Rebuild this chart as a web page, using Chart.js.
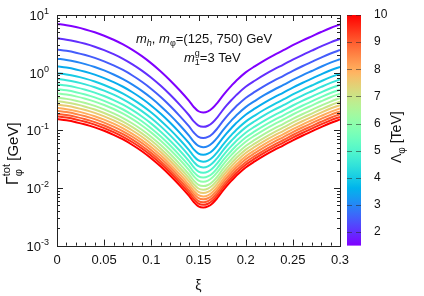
<!DOCTYPE html>
<html>
<head>
<meta charset="utf-8">
<script src="https://cdn.jsdelivr.net/npm/chart.js@4.4.1/dist/chart.umd.min.js"></script>
<style>
  html, body { margin: 0; padding: 0; background: #fff; }
  #wrap { width: 424px; height: 296px; }
</style>
</head>
<body>
<div id="wrap"><canvas id="c" width="424" height="296"></canvas></div>
<script>
// xi grid of the curves
const xi = [0, 0.01, 0.02, 0.03, 0.04, 0.05, 0.06, 0.07, 0.08, 0.09, 0.10, 0.11, 0.12, 0.13,
            0.14, 0.145, 0.15, 0.155, 0.16, 0.165, 0.17, 0.175, 0.18, 0.185, 0.19, 0.20,
            0.21, 0.22, 0.23, 0.24, 0.25, 0.26, 0.27, 0.28, 0.29, 0.30];
// width of the top curve (Lambda = 1.5 TeV), GeV
const topCurve = [7.00, 6.64, 6.17, 5.62, 5.01, 4.37, 3.72, 3.09, 2.48, 1.93, 1.45, 1.05, 0.733, 0.495,
                  0.324, 0.254, 0.214, 0.204, 0.213, 0.243, 0.299, 0.384, 0.484, 0.596, 0.724, 1.01,
                  1.30, 1.64, 2.02, 2.45, 2.99, 3.59, 4.27, 5.07, 5.96, 6.85];
// Lambda_phi of each curve (TeV) and its width at xi = 0 (GeV)
const lambdas = [1.5, 2, 2.5, 3, 3.5, 4, 4.5, 5, 5.5, 6, 6.5, 7, 7.5, 8, 8.5, 9, 9.5, 10];
const gammaAtZero = [7.0, 3.94, 2.52, 1.75, 1.29, 0.98, 0.78, 0.63, 0.52, 0.44, 0.37, 0.32,
                     0.28, 0.245, 0.218, 0.194, 0.175, 0.157];
const xTicks = [0, 0.05, 0.1, 0.15, 0.2, 0.25, 0.3];
const yDecades = [-3, -2, -1, 0, 1];
const cbTicks = [2, 3, 4, 5, 6, 7, 8, 9, 10];
const cbMin = 1.5, cbMax = 10;

function rainbow(t) {
  const r = Math.min(1, Math.abs(2 * t - 0.5));
  const g = Math.sin(Math.PI * t);
  const b = Math.cos(Math.PI * t / 2);
  return "rgb(" + Math.round(r * 255) + "," + Math.round(g * 255) + "," + Math.round(b * 255) + ")";
}

const datasets = lambdas.map(function(L, k) {
  return {
    label: "Lambda = " + L,
    data: xi.map(function(x, i) { return { x: x, y: topCurve[i] * gammaAtZero[k] / topCurve[0] }; }),
    borderColor: rainbow((L - cbMin) / (cbMax - cbMin)),
    borderWidth: 2,
    pointRadius: 0,
    tension: 0.35,
    fill: false
  };
});

const FONT = "'Liberation Sans', Arial, sans-serif";

// draws runs of [text, size, shift, italic, noAdvance] one after another
function drawRuns(ctx, runs, x, y) {
  let cx = x;
  runs.forEach(function(r) {
    ctx.font = (r[3] ? "italic " : "") + r[1] + "px " + FONT;
    ctx.fillText(r[0], cx, y + r[2]);
    if (!r[4]) cx += ctx.measureText(r[0]).width;
  });
  return cx;
}

const decor = {
  id: "decor",
  afterDatasetsDraw(chart) {
    const ctx = chart.ctx;
    const a = chart.chartArea;
    const xs = chart.scales.x, ys = chart.scales.y;
    ctx.save();
    ctx.strokeStyle = "#222";
    ctx.lineWidth = 1;

    // ticks, pointing inward, mirrored
    ctx.beginPath();
    for (let v = 0; v <= 30; v++) {
      const px = Math.round(xs.getPixelForValue(v / 100)) + 0.5;
      const len = v % 5 === 0 ? 6 : 3;
      ctx.moveTo(px, a.bottom); ctx.lineTo(px, a.bottom - len);
      ctx.moveTo(px, a.top); ctx.lineTo(px, a.top + len);
    }
    yDecades.forEach(function(d) {
      for (let m = 1; m <= 9; m++) {
        const val = m * Math.pow(10, d);
        if (val > 10) break;
        const py = Math.round(ys.getPixelForValue(val)) + 0.5;
        const len = m === 1 ? 6 : 3;
        ctx.moveTo(a.left, py); ctx.lineTo(a.left + len, py);
        ctx.moveTo(a.right, py); ctx.lineTo(a.right - len, py);
      }
    });
    ctx.stroke();
    ctx.strokeRect(Math.round(a.left) + 0.5, Math.round(a.top) + 0.5,
                   Math.round(a.right - a.left), Math.round(a.bottom - a.top));

    // y tick labels 10^n
    ctx.fillStyle = "#111";
    ctx.textBaseline = "alphabetic";
    yDecades.forEach(function(d) {
      const py = ys.getPixelForValue(Math.pow(10, d));
      ctx.font = "9px " + FONT;
      const e = String(d);
      const ew = ctx.measureText(e).width;
      ctx.textAlign = "left";
      ctx.fillText(e, 49 - ew, py - 1);
      ctx.font = "13px " + FONT;
      ctx.textAlign = "right";
      ctx.fillText("10", 49 - ew, py + 5);
    });

    // y axis title
    ctx.textAlign = "left";
    ctx.save();
    ctx.translate(18, 185);
    ctx.rotate(-Math.PI / 2);
    drawRuns(ctx, [["\u0393", 16, 0], ["tot", 11, -8, false, true], ["\u03c6", 11, 4], ["  [GeV]", 15, 0]], 0, 0);
    ctx.restore();

    // annotations
    drawRuns(ctx, [["m", 13, 0, true], ["h", 9, 3, true], [", ", 13, 0], ["m", 13, 0, true],
                   ["\u03c6", 9, 3], ["=(125, 750) GeV", 13, 0]], 136, 43);
    drawRuns(ctx, [["m", 13, 0, true], ["g", 9, -6, false, true], ["1", 9, 3], ["=3 TeV", 13, 0]], 184, 62);

    // colour bar
    const cbL = 347, cbR = 361, cbT = a.top, cbB = a.bottom;
    const grad = ctx.createLinearGradient(0, cbB, 0, cbT);
    for (let i = 0; i <= 40; i++) grad.addColorStop(i / 40, rainbow(i / 40));
    ctx.fillStyle = grad;
    ctx.fillRect(cbL, cbT, cbR - cbL, cbB - cbT);
    ctx.strokeStyle = "rgba(40,40,40,0.55)";
    ctx.beginPath();
    cbTicks.forEach(function(v) {
      const py = Math.round(cbB - (v - cbMin) / (cbMax - cbMin) * (cbB - cbT)) + 0.5;
      ctx.moveTo(cbL, py); ctx.lineTo(cbL + 5, py);
      ctx.moveTo(cbR, py); ctx.lineTo(cbR - 5, py);
    });
    ctx.stroke();
    ctx.fillStyle = "#111";
    ctx.font = "12px " + FONT;
    ctx.textAlign = "left";
    ctx.textBaseline = "middle";
    cbTicks.forEach(function(v) {
      const py = cbB - (v - cbMin) / (cbMax - cbMin) * (cbB - cbT);
      ctx.fillText(String(v), 374, py);
    });
    ctx.textBaseline = "alphabetic";
    ctx.save();
    ctx.translate(401, 163);
    ctx.rotate(-Math.PI / 2);
    drawRuns(ctx, [["\u039b", 14, 0], ["\u03c6", 10, 4], [" [TeV]", 14, 0]], 0, 0);
    ctx.restore();

    ctx.restore();
  }
};

new Chart(document.getElementById("c"), {
  type: "line",
  data: { datasets: datasets },
  options: {
    responsive: false,
    animation: false,
    events: [],
    layout: { padding: { left: 57, right: 84, top: 15, bottom: 1 } },
    plugins: { legend: { display: false }, tooltip: { enabled: false } },
    scales: {
      x: {
        type: "linear",
        min: 0,
        max: 0.3,
        afterBuildTicks: function(s) { s.ticks = xTicks.map(function(v) { return { value: v }; }); },
        grid: { display: false, drawTicks: false },
        border: { display: false },
        ticks: {
          padding: 7,
          color: "#111",
          font: { family: FONT, size: 13 },
          maxRotation: 0,
          autoSkip: false,
          callback: function(v) { return String(parseFloat(v.toFixed(2))); }
        },
        title: { display: true, text: "\u03be", color: "#111", font: { family: FONT, size: 14 }, padding: { top: 3, bottom: 0 } }
      },
      y: {
        type: "logarithmic",
        min: 0.001,
        max: 10,
        display: false
      }
    }
  },
  plugins: [decor]
});
</script>
</body>
</html>
